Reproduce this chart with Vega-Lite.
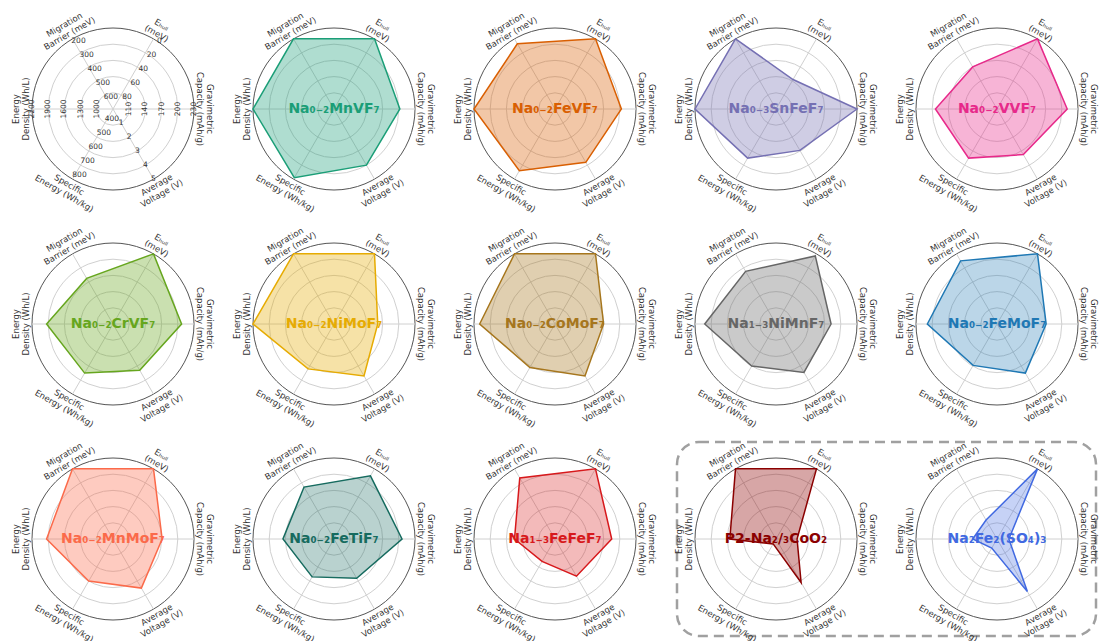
{
  "$schema": "https://vega.github.io/schema/vega-lite/v6.json",
  "background": "white",
  "padding": {"left": 11, "top": 6, "right": 0, "bottom": 0},
  "autosize": {"type": "pad"},
  "config": {
    "view": {"stroke": null},
    "axis": {"disable": true},
    "legend": {"disable": true},
    "font": "DejaVu Sans"
  },
  "datasets": {
    "axes": [
      {"axis": "grav", "angle": 0, "lo": 110, "hi": 230, "title": "Gravimetric\nCapacity (mAh/g)"},
      {"axis": "ehull", "angle": 60, "lo": 80, "hi": 0, "title": "Eₕᵤₗₗ\n(meV)"},
      {"axis": "mig", "angle": 120, "lo": 600, "hi": 200, "title": "Migration\nBarrier (meV)"},
      {"axis": "ed", "angle": 180, "lo": 1000, "hi": 2200, "title": "Energy\nDensity (Wh/L)"},
      {"axis": "spec", "angle": 240, "lo": 400, "hi": 800, "title": "Specific\nEnergy (Wh/kg)"},
      {"axis": "volt", "angle": 300, "lo": 1, "hi": 5, "title": "Average\nVoltage (V)"}
    ],
    "rings": [{"r": 0.2}, {"r": 0.4}, {"r": 0.6}, {"r": 0.8}, {"r": 1}],
    "ticks": [
      {"axis": "mig", "value": 600}, {"axis": "mig", "value": 500}, {"axis": "mig", "value": 400}, {"axis": "mig", "value": 300}, {"axis": "mig", "value": 200},
      {"axis": "ehull", "value": 80}, {"axis": "ehull", "value": 60}, {"axis": "ehull", "value": 40}, {"axis": "ehull", "value": 20}, {"axis": "ehull", "value": 0},
      {"axis": "grav", "value": 110}, {"axis": "grav", "value": 140}, {"axis": "grav", "value": 170}, {"axis": "grav", "value": 200}, {"axis": "grav", "value": 230},
      {"axis": "volt", "value": 1}, {"axis": "volt", "value": 2}, {"axis": "volt", "value": 3}, {"axis": "volt", "value": 4}, {"axis": "volt", "value": 5},
      {"axis": "spec", "value": 400}, {"axis": "spec", "value": 500}, {"axis": "spec", "value": 600}, {"axis": "spec", "value": 700}, {"axis": "spec", "value": 800},
      {"axis": "ed", "value": 1000}, {"axis": "ed", "value": 1300}, {"axis": "ed", "value": 1600}, {"axis": "ed", "value": 1900}, {"axis": "ed", "value": 2200}
    ],
    "radar": [
      {"material": "Na₀₋₂MnVF₇", "axis": "mig", "value": 200}, {"material": "Na₀₋₂MnVF₇", "axis": "ehull", "value": 0}, {"material": "Na₀₋₂MnVF₇", "axis": "grav", "value": 202}, {"material": "Na₀₋₂MnVF₇", "axis": "volt", "value": 4.0}, {"material": "Na₀₋₂MnVF₇", "axis": "spec", "value": 790}, {"material": "Na₀₋₂MnVF₇", "axis": "ed", "value": 2200},
      {"material": "Na₀₋₂FeVF₇", "axis": "mig", "value": 235}, {"material": "Na₀₋₂FeVF₇", "axis": "ehull", "value": 0}, {"material": "Na₀₋₂FeVF₇", "axis": "grav", "value": 203}, {"material": "Na₀₋₂FeVF₇", "axis": "volt", "value": 3.8}, {"material": "Na₀₋₂FeVF₇", "axis": "spec", "value": 740}, {"material": "Na₀₋₂FeVF₇", "axis": "ed", "value": 2200},
      {"material": "Na₀₋₃SnFeF₇", "axis": "mig", "value": 200}, {"material": "Na₀₋₃SnFeF₇", "axis": "ehull", "value": 58}, {"material": "Na₀₋₃SnFeF₇", "axis": "grav", "value": 230}, {"material": "Na₀₋₃SnFeF₇", "axis": "volt", "value": 2.95}, {"material": "Na₀₋₃SnFeF₇", "axis": "spec", "value": 650}, {"material": "Na₀₋₃SnFeF₇", "axis": "ed", "value": 2200},
      {"material": "Na₀₋₂VVF₇", "axis": "mig", "value": 400}, {"material": "Na₀₋₂VVF₇", "axis": "ehull", "value": 0}, {"material": "Na₀₋₂VVF₇", "axis": "grav", "value": 210}, {"material": "Na₀₋₂VVF₇", "axis": "volt", "value": 3.25}, {"material": "Na₀₋₂VVF₇", "axis": "spec", "value": 650}, {"material": "Na₀₋₂VVF₇", "axis": "ed", "value": 1840},
      {"material": "Na₀₋₂CrVF₇", "axis": "mig", "value": 375}, {"material": "Na₀₋₂CrVF₇", "axis": "ehull", "value": 0}, {"material": "Na₀₋₂CrVF₇", "axis": "grav", "value": 207}, {"material": "Na₀₋₂CrVF₇", "axis": "volt", "value": 3.3}, {"material": "Na₀₋₂CrVF₇", "axis": "spec", "value": 650}, {"material": "Na₀₋₂CrVF₇", "axis": "ed", "value": 1930},
      {"material": "Na₀₋₂NiMoF₇", "axis": "mig", "value": 200}, {"material": "Na₀₋₂NiMoF₇", "axis": "ehull", "value": 0}, {"material": "Na₀₋₂NiMoF₇", "axis": "grav", "value": 161}, {"material": "Na₀₋₂NiMoF₇", "axis": "volt", "value": 3.7}, {"material": "Na₀₋₂NiMoF₇", "axis": "spec", "value": 620}, {"material": "Na₀₋₂NiMoF₇", "axis": "ed", "value": 2200},
      {"material": "Na₀₋₂CoMoF₇", "axis": "mig", "value": 200}, {"material": "Na₀₋₂CoMoF₇", "axis": "ehull", "value": 0}, {"material": "Na₀₋₂CoMoF₇", "axis": "grav", "value": 170}, {"material": "Na₀₋₂CoMoF₇", "axis": "volt", "value": 3.7}, {"material": "Na₀₋₂CoMoF₇", "axis": "spec", "value": 610}, {"material": "Na₀₋₂CoMoF₇", "axis": "ed", "value": 2095},
      {"material": "Na₁₋₃NiMnF₇", "axis": "mig", "value": 325}, {"material": "Na₁₋₃NiMnF₇", "axis": "ehull", "value": 3}, {"material": "Na₁₋₃NiMnF₇", "axis": "grav", "value": 182}, {"material": "Na₁₋₃NiMnF₇", "axis": "volt", "value": 3.45}, {"material": "Na₁₋₃NiMnF₇", "axis": "spec", "value": 600}, {"material": "Na₁₋₃NiMnF₇", "axis": "ed", "value": 2020},
      {"material": "Na₀₋₂FeMoF₇", "axis": "mig", "value": 250}, {"material": "Na₀₋₂FeMoF₇", "axis": "ehull", "value": 0}, {"material": "Na₀₋₂FeMoF₇", "axis": "grav", "value": 171}, {"material": "Na₀₋₂FeMoF₇", "axis": "volt", "value": 3.5}, {"material": "Na₀₋₂FeMoF₇", "axis": "spec", "value": 595}, {"material": "Na₀₋₂FeMoF₇", "axis": "ed", "value": 1990},
      {"material": "Na₀₋₂MnMoF₇", "axis": "mig", "value": 200}, {"material": "Na₀₋₂MnMoF₇", "axis": "ehull", "value": 0}, {"material": "Na₀₋₂MnMoF₇", "axis": "grav", "value": 171}, {"material": "Na₀₋₂MnMoF₇", "axis": "volt", "value": 3.5}, {"material": "Na₀₋₂MnMoF₇", "axis": "spec", "value": 600}, {"material": "Na₀₋₂MnMoF₇", "axis": "ed", "value": 1930},
      {"material": "Na₀₋₂FeTiF₇", "axis": "mig", "value": 330}, {"material": "Na₀₋₂FeTiF₇", "axis": "ehull", "value": 10}, {"material": "Na₀₋₂FeTiF₇", "axis": "grav", "value": 206}, {"material": "Na₀₋₂FeTiF₇", "axis": "volt", "value": 2.8}, {"material": "Na₀₋₂FeTiF₇", "axis": "spec", "value": 570}, {"material": "Na₀₋₂FeTiF₇", "axis": "ed", "value": 1645},
      {"material": "Na₁₋₃FeFeF₇", "axis": "mig", "value": 265}, {"material": "Na₁₋₃FeFeF₇", "axis": "ehull", "value": 0}, {"material": "Na₁₋₃FeFeF₇", "axis": "grav", "value": 185}, {"material": "Na₁₋₃FeFeF₇", "axis": "volt", "value": 2.65}, {"material": "Na₁₋₃FeFeF₇", "axis": "spec", "value": 460}, {"material": "Na₁₋₃FeFeF₇", "axis": "ed", "value": 1450},
      {"material": "P2-Na₂/₃CoO₂", "axis": "mig", "value": 200}, {"material": "P2-Na₂/₃CoO₂", "axis": "ehull", "value": 0}, {"material": "P2-Na₂/₃CoO₂", "axis": "grav", "value": 119}, {"material": "P2-Na₂/₃CoO₂", "axis": "volt", "value": 3.1}, {"material": "P2-Na₂/₃CoO₂", "axis": "spec", "value": 335}, {"material": "P2-Na₂/₃CoO₂", "axis": "ed", "value": 1555},
      {"material": "Na₂Fe₂(SO₄)₃", "axis": "mig", "value": 565}, {"material": "Na₂Fe₂(SO₄)₃", "axis": "ehull", "value": 0}, {"material": "Na₂Fe₂(SO₄)₃", "axis": "grav", "value": 102}, {"material": "Na₂Fe₂(SO₄)₃", "axis": "volt", "value": 3.75}, {"material": "Na₂Fe₂(SO₄)₃", "axis": "spec", "value": 365}, {"material": "Na₂Fe₂(SO₄)₃", "axis": "ed", "value": 1150}
    ]
  },
  "data": {"name": "radar"},
  "transform": [
    {"lookup": "axis", "from": {"data": {"name": "axes"}, "key": "axis", "fields": ["angle", "lo", "hi"]}},
    {"calculate": "0.2 + 0.8 * (datum.value - datum.lo) / (datum.hi - datum.lo)", "as": "r"},
    {"calculate": "datum.r * cos(datum.angle * PI / 180)", "as": "px"},
    {"calculate": "datum.r * sin(datum.angle * PI / 180)", "as": "py"}
  ],
  "columns": 5,
  "spacing": {"row": 21, "column": 23},
  "bounds": "flush",
  "concat": [
    {
      "width": 198, "height": 194,
      "layer": [
        {"data": {"name": "rings"}, "mark": {"type": "point", "shape": "circle", "filled": false, "opacity": 1, "strokeWidth": 1}, "encoding": {"x": {"datum": 0, "type": "quantitative", "scale": {"domain": [-1.2222, 1.2222], "nice": false}}, "y": {"datum": 0, "type": "quantitative", "scale": {"domain": [-1.1975, 1.1975], "nice": false}}, "size": {"field": "r", "type": "quantitative", "scale": {"type": "pow", "exponent": 2, "domain": [0, 1], "range": [0, 26244]}}, "stroke": {"condition": {"test": "datum.r === 1", "value": "#555555"}, "value": "#d0d0d0"}}},
        {"data": {"name": "axes"}, "transform": [{"calculate": "0", "as": "ox"}, {"calculate": "0", "as": "oy"}, {"calculate": "cos(datum.angle * PI / 180)", "as": "ex"}, {"calculate": "sin(datum.angle * PI / 180)", "as": "ey"}], "mark": {"type": "rule", "color": "#d0d0d0", "strokeWidth": 1}, "encoding": {"x": {"field": "ox", "type": "quantitative"}, "y": {"field": "oy", "type": "quantitative"}, "x2": {"field": "ex"}, "y2": {"field": "ey"}}},
        {"data": {"name": "axes"}, "transform": [{"calculate": "1.14 * cos(datum.angle * PI / 180)", "as": "tx"}, {"calculate": "1.14 * sin(datum.angle * PI / 180)", "as": "ty"}, {"calculate": "90 - datum.angle < -90 ? 270 - datum.angle : 90 - datum.angle", "as": "rot"}], "mark": {"type": "text", "fontSize": 8.5, "lineBreak": "\n", "lineHeight": 10, "color": "#333333", "baseline": "middle", "align": "center", "dy": -5}, "encoding": {"x": {"field": "tx", "type": "quantitative"}, "y": {"field": "ty", "type": "quantitative"}, "text": {"field": "title", "type": "nominal"}, "angle": {"field": "rot", "type": "quantitative", "scale": null}}},
        {
          "data": {"name": "ticks"},
          "transform": [
            {"lookup": "axis", "from": {"data": {"name": "axes"}, "key": "axis", "fields": ["angle", "lo", "hi"]}},
            {"calculate": "0.2 + 0.8 * (datum.value - datum.lo) / (datum.hi - datum.lo)", "as": "r"},
            {"calculate": "datum.r * cos(datum.angle * PI / 180)", "as": "px"},
            {"calculate": "datum.r * sin(datum.angle * PI / 180)", "as": "py"}
          ],
          "encoding": {"x": {"field": "px", "type": "quantitative"}, "y": {"field": "py", "type": "quantitative"}, "text": {"field": "value", "type": "nominal"}},
          "layer": [
            {"transform": [{"filter": "datum.axis === 'mig' || datum.axis === 'ehull'"}], "mark": {"type": "text", "fontSize": 7.5, "color": "#333333", "dx": 6, "dy": 2}},
            {"transform": [{"filter": "datum.axis === 'spec'"}], "mark": {"type": "text", "fontSize": 7.5, "color": "#333333", "dx": 7, "dy": -4}},
            {"transform": [{"filter": "datum.axis === 'volt'"}], "mark": {"type": "text", "fontSize": 7.5, "color": "#333333"}},
            {"transform": [{"filter": "datum.axis === 'grav' || datum.axis === 'ed'"}], "mark": {"type": "text", "fontSize": 7.5, "color": "#333333", "angle": -90}}
          ]
        }
      ]
    },
    {
      "width": 198, "height": 194,
      "layer": [
        {"data": {"name": "rings"}, "mark": {"type": "point", "shape": "circle", "filled": false, "opacity": 1, "strokeWidth": 1}, "encoding": {"x": {"datum": 0, "type": "quantitative", "scale": {"domain": [-1.2222, 1.2222], "nice": false}}, "y": {"datum": 0, "type": "quantitative", "scale": {"domain": [-1.1975, 1.1975], "nice": false}}, "size": {"field": "r", "type": "quantitative", "scale": {"type": "pow", "exponent": 2, "domain": [0, 1], "range": [0, 26244]}}, "stroke": {"condition": {"test": "datum.r === 1", "value": "#555555"}, "value": "#d0d0d0"}}},
        {"data": {"name": "axes"}, "transform": [{"calculate": "0", "as": "ox"}, {"calculate": "0", "as": "oy"}, {"calculate": "cos(datum.angle * PI / 180)", "as": "ex"}, {"calculate": "sin(datum.angle * PI / 180)", "as": "ey"}], "mark": {"type": "rule", "color": "#d0d0d0", "strokeWidth": 1}, "encoding": {"x": {"field": "ox", "type": "quantitative"}, "y": {"field": "oy", "type": "quantitative"}, "x2": {"field": "ex"}, "y2": {"field": "ey"}}},
        {"transform": [{"filter": {"field": "material", "equal": "Na₀₋₂MnVF₇"}}], "mark": {"type": "line", "interpolate": "linear-closed", "color": "#1b9e77", "strokeWidth": 1.5, "fill": "#1b9e77", "fillOpacity": 0.35}, "encoding": {"x": {"field": "px", "type": "quantitative"}, "y": {"field": "py", "type": "quantitative"}, "order": {"field": "angle", "type": "quantitative"}}},
        {"data": {"name": "axes"}, "transform": [{"calculate": "1.14 * cos(datum.angle * PI / 180)", "as": "tx"}, {"calculate": "1.14 * sin(datum.angle * PI / 180)", "as": "ty"}, {"calculate": "90 - datum.angle < -90 ? 270 - datum.angle : 90 - datum.angle", "as": "rot"}], "mark": {"type": "text", "fontSize": 8.5, "lineBreak": "\n", "lineHeight": 10, "color": "#333333", "baseline": "middle", "align": "center", "dy": -5}, "encoding": {"x": {"field": "tx", "type": "quantitative"}, "y": {"field": "ty", "type": "quantitative"}, "text": {"field": "title", "type": "nominal"}, "angle": {"field": "rot", "type": "quantitative", "scale": null}}},
        {"transform": [{"filter": {"field": "material", "equal": "Na₀₋₂MnVF₇"}}, {"filter": {"field": "axis", "equal": "grav"}}], "mark": {"type": "text", "fontSize": 14, "fontWeight": "bold", "color": "#1b9e77"}, "encoding": {"x": {"datum": 0, "type": "quantitative"}, "y": {"datum": 0, "type": "quantitative"}, "text": {"field": "material", "type": "nominal"}}}
      ]
    },
    {
      "width": 198, "height": 194,
      "layer": [
        {"data": {"name": "rings"}, "mark": {"type": "point", "shape": "circle", "filled": false, "opacity": 1, "strokeWidth": 1}, "encoding": {"x": {"datum": 0, "type": "quantitative", "scale": {"domain": [-1.2222, 1.2222], "nice": false}}, "y": {"datum": 0, "type": "quantitative", "scale": {"domain": [-1.1975, 1.1975], "nice": false}}, "size": {"field": "r", "type": "quantitative", "scale": {"type": "pow", "exponent": 2, "domain": [0, 1], "range": [0, 26244]}}, "stroke": {"condition": {"test": "datum.r === 1", "value": "#555555"}, "value": "#d0d0d0"}}},
        {"data": {"name": "axes"}, "transform": [{"calculate": "0", "as": "ox"}, {"calculate": "0", "as": "oy"}, {"calculate": "cos(datum.angle * PI / 180)", "as": "ex"}, {"calculate": "sin(datum.angle * PI / 180)", "as": "ey"}], "mark": {"type": "rule", "color": "#d0d0d0", "strokeWidth": 1}, "encoding": {"x": {"field": "ox", "type": "quantitative"}, "y": {"field": "oy", "type": "quantitative"}, "x2": {"field": "ex"}, "y2": {"field": "ey"}}},
        {"transform": [{"filter": {"field": "material", "equal": "Na₀₋₂FeVF₇"}}], "mark": {"type": "line", "interpolate": "linear-closed", "color": "#d95f02", "strokeWidth": 1.5, "fill": "#d95f02", "fillOpacity": 0.35}, "encoding": {"x": {"field": "px", "type": "quantitative"}, "y": {"field": "py", "type": "quantitative"}, "order": {"field": "angle", "type": "quantitative"}}},
        {"data": {"name": "axes"}, "transform": [{"calculate": "1.14 * cos(datum.angle * PI / 180)", "as": "tx"}, {"calculate": "1.14 * sin(datum.angle * PI / 180)", "as": "ty"}, {"calculate": "90 - datum.angle < -90 ? 270 - datum.angle : 90 - datum.angle", "as": "rot"}], "mark": {"type": "text", "fontSize": 8.5, "lineBreak": "\n", "lineHeight": 10, "color": "#333333", "baseline": "middle", "align": "center", "dy": -5}, "encoding": {"x": {"field": "tx", "type": "quantitative"}, "y": {"field": "ty", "type": "quantitative"}, "text": {"field": "title", "type": "nominal"}, "angle": {"field": "rot", "type": "quantitative", "scale": null}}},
        {"transform": [{"filter": {"field": "material", "equal": "Na₀₋₂FeVF₇"}}, {"filter": {"field": "axis", "equal": "grav"}}], "mark": {"type": "text", "fontSize": 14, "fontWeight": "bold", "color": "#d95f02"}, "encoding": {"x": {"datum": 0, "type": "quantitative"}, "y": {"datum": 0, "type": "quantitative"}, "text": {"field": "material", "type": "nominal"}}}
      ]
    },
    {
      "width": 198, "height": 194,
      "layer": [
        {"data": {"name": "rings"}, "mark": {"type": "point", "shape": "circle", "filled": false, "opacity": 1, "strokeWidth": 1}, "encoding": {"x": {"datum": 0, "type": "quantitative", "scale": {"domain": [-1.2222, 1.2222], "nice": false}}, "y": {"datum": 0, "type": "quantitative", "scale": {"domain": [-1.1975, 1.1975], "nice": false}}, "size": {"field": "r", "type": "quantitative", "scale": {"type": "pow", "exponent": 2, "domain": [0, 1], "range": [0, 26244]}}, "stroke": {"condition": {"test": "datum.r === 1", "value": "#555555"}, "value": "#d0d0d0"}}},
        {"data": {"name": "axes"}, "transform": [{"calculate": "0", "as": "ox"}, {"calculate": "0", "as": "oy"}, {"calculate": "cos(datum.angle * PI / 180)", "as": "ex"}, {"calculate": "sin(datum.angle * PI / 180)", "as": "ey"}], "mark": {"type": "rule", "color": "#d0d0d0", "strokeWidth": 1}, "encoding": {"x": {"field": "ox", "type": "quantitative"}, "y": {"field": "oy", "type": "quantitative"}, "x2": {"field": "ex"}, "y2": {"field": "ey"}}},
        {"transform": [{"filter": {"field": "material", "equal": "Na₀₋₃SnFeF₇"}}], "mark": {"type": "line", "interpolate": "linear-closed", "color": "#7570b3", "strokeWidth": 1.5, "fill": "#7570b3", "fillOpacity": 0.35}, "encoding": {"x": {"field": "px", "type": "quantitative"}, "y": {"field": "py", "type": "quantitative"}, "order": {"field": "angle", "type": "quantitative"}}},
        {"data": {"name": "axes"}, "transform": [{"calculate": "1.14 * cos(datum.angle * PI / 180)", "as": "tx"}, {"calculate": "1.14 * sin(datum.angle * PI / 180)", "as": "ty"}, {"calculate": "90 - datum.angle < -90 ? 270 - datum.angle : 90 - datum.angle", "as": "rot"}], "mark": {"type": "text", "fontSize": 8.5, "lineBreak": "\n", "lineHeight": 10, "color": "#333333", "baseline": "middle", "align": "center", "dy": -5}, "encoding": {"x": {"field": "tx", "type": "quantitative"}, "y": {"field": "ty", "type": "quantitative"}, "text": {"field": "title", "type": "nominal"}, "angle": {"field": "rot", "type": "quantitative", "scale": null}}},
        {"transform": [{"filter": {"field": "material", "equal": "Na₀₋₃SnFeF₇"}}, {"filter": {"field": "axis", "equal": "grav"}}], "mark": {"type": "text", "fontSize": 14, "fontWeight": "bold", "color": "#7570b3"}, "encoding": {"x": {"datum": 0, "type": "quantitative"}, "y": {"datum": 0, "type": "quantitative"}, "text": {"field": "material", "type": "nominal"}}}
      ]
    },
    {
      "width": 198, "height": 194,
      "layer": [
        {"data": {"name": "rings"}, "mark": {"type": "point", "shape": "circle", "filled": false, "opacity": 1, "strokeWidth": 1}, "encoding": {"x": {"datum": 0, "type": "quantitative", "scale": {"domain": [-1.2222, 1.2222], "nice": false}}, "y": {"datum": 0, "type": "quantitative", "scale": {"domain": [-1.1975, 1.1975], "nice": false}}, "size": {"field": "r", "type": "quantitative", "scale": {"type": "pow", "exponent": 2, "domain": [0, 1], "range": [0, 26244]}}, "stroke": {"condition": {"test": "datum.r === 1", "value": "#555555"}, "value": "#d0d0d0"}}},
        {"data": {"name": "axes"}, "transform": [{"calculate": "0", "as": "ox"}, {"calculate": "0", "as": "oy"}, {"calculate": "cos(datum.angle * PI / 180)", "as": "ex"}, {"calculate": "sin(datum.angle * PI / 180)", "as": "ey"}], "mark": {"type": "rule", "color": "#d0d0d0", "strokeWidth": 1}, "encoding": {"x": {"field": "ox", "type": "quantitative"}, "y": {"field": "oy", "type": "quantitative"}, "x2": {"field": "ex"}, "y2": {"field": "ey"}}},
        {"transform": [{"filter": {"field": "material", "equal": "Na₀₋₂VVF₇"}}], "mark": {"type": "line", "interpolate": "linear-closed", "color": "#e7298a", "strokeWidth": 1.5, "fill": "#e7298a", "fillOpacity": 0.35}, "encoding": {"x": {"field": "px", "type": "quantitative"}, "y": {"field": "py", "type": "quantitative"}, "order": {"field": "angle", "type": "quantitative"}}},
        {"data": {"name": "axes"}, "transform": [{"calculate": "1.14 * cos(datum.angle * PI / 180)", "as": "tx"}, {"calculate": "1.14 * sin(datum.angle * PI / 180)", "as": "ty"}, {"calculate": "90 - datum.angle < -90 ? 270 - datum.angle : 90 - datum.angle", "as": "rot"}], "mark": {"type": "text", "fontSize": 8.5, "lineBreak": "\n", "lineHeight": 10, "color": "#333333", "baseline": "middle", "align": "center", "dy": -5}, "encoding": {"x": {"field": "tx", "type": "quantitative"}, "y": {"field": "ty", "type": "quantitative"}, "text": {"field": "title", "type": "nominal"}, "angle": {"field": "rot", "type": "quantitative", "scale": null}}},
        {"transform": [{"filter": {"field": "material", "equal": "Na₀₋₂VVF₇"}}, {"filter": {"field": "axis", "equal": "grav"}}], "mark": {"type": "text", "fontSize": 14, "fontWeight": "bold", "color": "#e7298a"}, "encoding": {"x": {"datum": 0, "type": "quantitative"}, "y": {"datum": 0, "type": "quantitative"}, "text": {"field": "material", "type": "nominal"}}}
      ]
    },
    {
      "width": 198, "height": 194,
      "layer": [
        {"data": {"name": "rings"}, "mark": {"type": "point", "shape": "circle", "filled": false, "opacity": 1, "strokeWidth": 1}, "encoding": {"x": {"datum": 0, "type": "quantitative", "scale": {"domain": [-1.2222, 1.2222], "nice": false}}, "y": {"datum": 0, "type": "quantitative", "scale": {"domain": [-1.1975, 1.1975], "nice": false}}, "size": {"field": "r", "type": "quantitative", "scale": {"type": "pow", "exponent": 2, "domain": [0, 1], "range": [0, 26244]}}, "stroke": {"condition": {"test": "datum.r === 1", "value": "#555555"}, "value": "#d0d0d0"}}},
        {"data": {"name": "axes"}, "transform": [{"calculate": "0", "as": "ox"}, {"calculate": "0", "as": "oy"}, {"calculate": "cos(datum.angle * PI / 180)", "as": "ex"}, {"calculate": "sin(datum.angle * PI / 180)", "as": "ey"}], "mark": {"type": "rule", "color": "#d0d0d0", "strokeWidth": 1}, "encoding": {"x": {"field": "ox", "type": "quantitative"}, "y": {"field": "oy", "type": "quantitative"}, "x2": {"field": "ex"}, "y2": {"field": "ey"}}},
        {"transform": [{"filter": {"field": "material", "equal": "Na₀₋₂CrVF₇"}}], "mark": {"type": "line", "interpolate": "linear-closed", "color": "#66a61e", "strokeWidth": 1.5, "fill": "#66a61e", "fillOpacity": 0.35}, "encoding": {"x": {"field": "px", "type": "quantitative"}, "y": {"field": "py", "type": "quantitative"}, "order": {"field": "angle", "type": "quantitative"}}},
        {"data": {"name": "axes"}, "transform": [{"calculate": "1.14 * cos(datum.angle * PI / 180)", "as": "tx"}, {"calculate": "1.14 * sin(datum.angle * PI / 180)", "as": "ty"}, {"calculate": "90 - datum.angle < -90 ? 270 - datum.angle : 90 - datum.angle", "as": "rot"}], "mark": {"type": "text", "fontSize": 8.5, "lineBreak": "\n", "lineHeight": 10, "color": "#333333", "baseline": "middle", "align": "center", "dy": -5}, "encoding": {"x": {"field": "tx", "type": "quantitative"}, "y": {"field": "ty", "type": "quantitative"}, "text": {"field": "title", "type": "nominal"}, "angle": {"field": "rot", "type": "quantitative", "scale": null}}},
        {"transform": [{"filter": {"field": "material", "equal": "Na₀₋₂CrVF₇"}}, {"filter": {"field": "axis", "equal": "grav"}}], "mark": {"type": "text", "fontSize": 14, "fontWeight": "bold", "color": "#66a61e"}, "encoding": {"x": {"datum": 0, "type": "quantitative"}, "y": {"datum": 0, "type": "quantitative"}, "text": {"field": "material", "type": "nominal"}}}
      ]
    },
    {
      "width": 198, "height": 194,
      "layer": [
        {"data": {"name": "rings"}, "mark": {"type": "point", "shape": "circle", "filled": false, "opacity": 1, "strokeWidth": 1}, "encoding": {"x": {"datum": 0, "type": "quantitative", "scale": {"domain": [-1.2222, 1.2222], "nice": false}}, "y": {"datum": 0, "type": "quantitative", "scale": {"domain": [-1.1975, 1.1975], "nice": false}}, "size": {"field": "r", "type": "quantitative", "scale": {"type": "pow", "exponent": 2, "domain": [0, 1], "range": [0, 26244]}}, "stroke": {"condition": {"test": "datum.r === 1", "value": "#555555"}, "value": "#d0d0d0"}}},
        {"data": {"name": "axes"}, "transform": [{"calculate": "0", "as": "ox"}, {"calculate": "0", "as": "oy"}, {"calculate": "cos(datum.angle * PI / 180)", "as": "ex"}, {"calculate": "sin(datum.angle * PI / 180)", "as": "ey"}], "mark": {"type": "rule", "color": "#d0d0d0", "strokeWidth": 1}, "encoding": {"x": {"field": "ox", "type": "quantitative"}, "y": {"field": "oy", "type": "quantitative"}, "x2": {"field": "ex"}, "y2": {"field": "ey"}}},
        {"transform": [{"filter": {"field": "material", "equal": "Na₀₋₂NiMoF₇"}}], "mark": {"type": "line", "interpolate": "linear-closed", "color": "#e6ab02", "strokeWidth": 1.5, "fill": "#e6ab02", "fillOpacity": 0.35}, "encoding": {"x": {"field": "px", "type": "quantitative"}, "y": {"field": "py", "type": "quantitative"}, "order": {"field": "angle", "type": "quantitative"}}},
        {"data": {"name": "axes"}, "transform": [{"calculate": "1.14 * cos(datum.angle * PI / 180)", "as": "tx"}, {"calculate": "1.14 * sin(datum.angle * PI / 180)", "as": "ty"}, {"calculate": "90 - datum.angle < -90 ? 270 - datum.angle : 90 - datum.angle", "as": "rot"}], "mark": {"type": "text", "fontSize": 8.5, "lineBreak": "\n", "lineHeight": 10, "color": "#333333", "baseline": "middle", "align": "center", "dy": -5}, "encoding": {"x": {"field": "tx", "type": "quantitative"}, "y": {"field": "ty", "type": "quantitative"}, "text": {"field": "title", "type": "nominal"}, "angle": {"field": "rot", "type": "quantitative", "scale": null}}},
        {"transform": [{"filter": {"field": "material", "equal": "Na₀₋₂NiMoF₇"}}, {"filter": {"field": "axis", "equal": "grav"}}], "mark": {"type": "text", "fontSize": 14, "fontWeight": "bold", "color": "#e6ab02"}, "encoding": {"x": {"datum": 0, "type": "quantitative"}, "y": {"datum": 0, "type": "quantitative"}, "text": {"field": "material", "type": "nominal"}}}
      ]
    },
    {
      "width": 198, "height": 194,
      "layer": [
        {"data": {"name": "rings"}, "mark": {"type": "point", "shape": "circle", "filled": false, "opacity": 1, "strokeWidth": 1}, "encoding": {"x": {"datum": 0, "type": "quantitative", "scale": {"domain": [-1.2222, 1.2222], "nice": false}}, "y": {"datum": 0, "type": "quantitative", "scale": {"domain": [-1.1975, 1.1975], "nice": false}}, "size": {"field": "r", "type": "quantitative", "scale": {"type": "pow", "exponent": 2, "domain": [0, 1], "range": [0, 26244]}}, "stroke": {"condition": {"test": "datum.r === 1", "value": "#555555"}, "value": "#d0d0d0"}}},
        {"data": {"name": "axes"}, "transform": [{"calculate": "0", "as": "ox"}, {"calculate": "0", "as": "oy"}, {"calculate": "cos(datum.angle * PI / 180)", "as": "ex"}, {"calculate": "sin(datum.angle * PI / 180)", "as": "ey"}], "mark": {"type": "rule", "color": "#d0d0d0", "strokeWidth": 1}, "encoding": {"x": {"field": "ox", "type": "quantitative"}, "y": {"field": "oy", "type": "quantitative"}, "x2": {"field": "ex"}, "y2": {"field": "ey"}}},
        {"transform": [{"filter": {"field": "material", "equal": "Na₀₋₂CoMoF₇"}}], "mark": {"type": "line", "interpolate": "linear-closed", "color": "#a6761d", "strokeWidth": 1.5, "fill": "#a6761d", "fillOpacity": 0.35}, "encoding": {"x": {"field": "px", "type": "quantitative"}, "y": {"field": "py", "type": "quantitative"}, "order": {"field": "angle", "type": "quantitative"}}},
        {"data": {"name": "axes"}, "transform": [{"calculate": "1.14 * cos(datum.angle * PI / 180)", "as": "tx"}, {"calculate": "1.14 * sin(datum.angle * PI / 180)", "as": "ty"}, {"calculate": "90 - datum.angle < -90 ? 270 - datum.angle : 90 - datum.angle", "as": "rot"}], "mark": {"type": "text", "fontSize": 8.5, "lineBreak": "\n", "lineHeight": 10, "color": "#333333", "baseline": "middle", "align": "center", "dy": -5}, "encoding": {"x": {"field": "tx", "type": "quantitative"}, "y": {"field": "ty", "type": "quantitative"}, "text": {"field": "title", "type": "nominal"}, "angle": {"field": "rot", "type": "quantitative", "scale": null}}},
        {"transform": [{"filter": {"field": "material", "equal": "Na₀₋₂CoMoF₇"}}, {"filter": {"field": "axis", "equal": "grav"}}], "mark": {"type": "text", "fontSize": 14, "fontWeight": "bold", "color": "#a6761d"}, "encoding": {"x": {"datum": 0, "type": "quantitative"}, "y": {"datum": 0, "type": "quantitative"}, "text": {"field": "material", "type": "nominal"}}}
      ]
    },
    {
      "width": 198, "height": 194,
      "layer": [
        {"data": {"name": "rings"}, "mark": {"type": "point", "shape": "circle", "filled": false, "opacity": 1, "strokeWidth": 1}, "encoding": {"x": {"datum": 0, "type": "quantitative", "scale": {"domain": [-1.2222, 1.2222], "nice": false}}, "y": {"datum": 0, "type": "quantitative", "scale": {"domain": [-1.1975, 1.1975], "nice": false}}, "size": {"field": "r", "type": "quantitative", "scale": {"type": "pow", "exponent": 2, "domain": [0, 1], "range": [0, 26244]}}, "stroke": {"condition": {"test": "datum.r === 1", "value": "#555555"}, "value": "#d0d0d0"}}},
        {"data": {"name": "axes"}, "transform": [{"calculate": "0", "as": "ox"}, {"calculate": "0", "as": "oy"}, {"calculate": "cos(datum.angle * PI / 180)", "as": "ex"}, {"calculate": "sin(datum.angle * PI / 180)", "as": "ey"}], "mark": {"type": "rule", "color": "#d0d0d0", "strokeWidth": 1}, "encoding": {"x": {"field": "ox", "type": "quantitative"}, "y": {"field": "oy", "type": "quantitative"}, "x2": {"field": "ex"}, "y2": {"field": "ey"}}},
        {"transform": [{"filter": {"field": "material", "equal": "Na₁₋₃NiMnF₇"}}], "mark": {"type": "line", "interpolate": "linear-closed", "color": "#666666", "strokeWidth": 1.5, "fill": "#666666", "fillOpacity": 0.35}, "encoding": {"x": {"field": "px", "type": "quantitative"}, "y": {"field": "py", "type": "quantitative"}, "order": {"field": "angle", "type": "quantitative"}}},
        {"data": {"name": "axes"}, "transform": [{"calculate": "1.14 * cos(datum.angle * PI / 180)", "as": "tx"}, {"calculate": "1.14 * sin(datum.angle * PI / 180)", "as": "ty"}, {"calculate": "90 - datum.angle < -90 ? 270 - datum.angle : 90 - datum.angle", "as": "rot"}], "mark": {"type": "text", "fontSize": 8.5, "lineBreak": "\n", "lineHeight": 10, "color": "#333333", "baseline": "middle", "align": "center", "dy": -5}, "encoding": {"x": {"field": "tx", "type": "quantitative"}, "y": {"field": "ty", "type": "quantitative"}, "text": {"field": "title", "type": "nominal"}, "angle": {"field": "rot", "type": "quantitative", "scale": null}}},
        {"transform": [{"filter": {"field": "material", "equal": "Na₁₋₃NiMnF₇"}}, {"filter": {"field": "axis", "equal": "grav"}}], "mark": {"type": "text", "fontSize": 14, "fontWeight": "bold", "color": "#666666"}, "encoding": {"x": {"datum": 0, "type": "quantitative"}, "y": {"datum": 0, "type": "quantitative"}, "text": {"field": "material", "type": "nominal"}}}
      ]
    },
    {
      "width": 198, "height": 194,
      "layer": [
        {"data": {"name": "rings"}, "mark": {"type": "point", "shape": "circle", "filled": false, "opacity": 1, "strokeWidth": 1}, "encoding": {"x": {"datum": 0, "type": "quantitative", "scale": {"domain": [-1.2222, 1.2222], "nice": false}}, "y": {"datum": 0, "type": "quantitative", "scale": {"domain": [-1.1975, 1.1975], "nice": false}}, "size": {"field": "r", "type": "quantitative", "scale": {"type": "pow", "exponent": 2, "domain": [0, 1], "range": [0, 26244]}}, "stroke": {"condition": {"test": "datum.r === 1", "value": "#555555"}, "value": "#d0d0d0"}}},
        {"data": {"name": "axes"}, "transform": [{"calculate": "0", "as": "ox"}, {"calculate": "0", "as": "oy"}, {"calculate": "cos(datum.angle * PI / 180)", "as": "ex"}, {"calculate": "sin(datum.angle * PI / 180)", "as": "ey"}], "mark": {"type": "rule", "color": "#d0d0d0", "strokeWidth": 1}, "encoding": {"x": {"field": "ox", "type": "quantitative"}, "y": {"field": "oy", "type": "quantitative"}, "x2": {"field": "ex"}, "y2": {"field": "ey"}}},
        {"transform": [{"filter": {"field": "material", "equal": "Na₀₋₂FeMoF₇"}}], "mark": {"type": "line", "interpolate": "linear-closed", "color": "#1f78b4", "strokeWidth": 1.5, "fill": "#1f78b4", "fillOpacity": 0.3}, "encoding": {"x": {"field": "px", "type": "quantitative"}, "y": {"field": "py", "type": "quantitative"}, "order": {"field": "angle", "type": "quantitative"}}},
        {"data": {"name": "axes"}, "transform": [{"calculate": "1.14 * cos(datum.angle * PI / 180)", "as": "tx"}, {"calculate": "1.14 * sin(datum.angle * PI / 180)", "as": "ty"}, {"calculate": "90 - datum.angle < -90 ? 270 - datum.angle : 90 - datum.angle", "as": "rot"}], "mark": {"type": "text", "fontSize": 8.5, "lineBreak": "\n", "lineHeight": 10, "color": "#333333", "baseline": "middle", "align": "center", "dy": -5}, "encoding": {"x": {"field": "tx", "type": "quantitative"}, "y": {"field": "ty", "type": "quantitative"}, "text": {"field": "title", "type": "nominal"}, "angle": {"field": "rot", "type": "quantitative", "scale": null}}},
        {"transform": [{"filter": {"field": "material", "equal": "Na₀₋₂FeMoF₇"}}, {"filter": {"field": "axis", "equal": "grav"}}], "mark": {"type": "text", "fontSize": 14, "fontWeight": "bold", "color": "#1f78b4"}, "encoding": {"x": {"datum": 0, "type": "quantitative"}, "y": {"datum": 0, "type": "quantitative"}, "text": {"field": "material", "type": "nominal"}}}
      ]
    },
    {
      "width": 198, "height": 194,
      "layer": [
        {"data": {"name": "rings"}, "mark": {"type": "point", "shape": "circle", "filled": false, "opacity": 1, "strokeWidth": 1}, "encoding": {"x": {"datum": 0, "type": "quantitative", "scale": {"domain": [-1.2222, 1.2222], "nice": false}}, "y": {"datum": 0, "type": "quantitative", "scale": {"domain": [-1.1975, 1.1975], "nice": false}}, "size": {"field": "r", "type": "quantitative", "scale": {"type": "pow", "exponent": 2, "domain": [0, 1], "range": [0, 26244]}}, "stroke": {"condition": {"test": "datum.r === 1", "value": "#555555"}, "value": "#d0d0d0"}}},
        {"data": {"name": "axes"}, "transform": [{"calculate": "0", "as": "ox"}, {"calculate": "0", "as": "oy"}, {"calculate": "cos(datum.angle * PI / 180)", "as": "ex"}, {"calculate": "sin(datum.angle * PI / 180)", "as": "ey"}], "mark": {"type": "rule", "color": "#d0d0d0", "strokeWidth": 1}, "encoding": {"x": {"field": "ox", "type": "quantitative"}, "y": {"field": "oy", "type": "quantitative"}, "x2": {"field": "ex"}, "y2": {"field": "ey"}}},
        {"transform": [{"filter": {"field": "material", "equal": "Na₀₋₂MnMoF₇"}}], "mark": {"type": "line", "interpolate": "linear-closed", "color": "#fb6a4a", "strokeWidth": 1.5, "fill": "#fb6a4a", "fillOpacity": 0.35}, "encoding": {"x": {"field": "px", "type": "quantitative"}, "y": {"field": "py", "type": "quantitative"}, "order": {"field": "angle", "type": "quantitative"}}},
        {"data": {"name": "axes"}, "transform": [{"calculate": "1.14 * cos(datum.angle * PI / 180)", "as": "tx"}, {"calculate": "1.14 * sin(datum.angle * PI / 180)", "as": "ty"}, {"calculate": "90 - datum.angle < -90 ? 270 - datum.angle : 90 - datum.angle", "as": "rot"}], "mark": {"type": "text", "fontSize": 8.5, "lineBreak": "\n", "lineHeight": 10, "color": "#333333", "baseline": "middle", "align": "center", "dy": -5}, "encoding": {"x": {"field": "tx", "type": "quantitative"}, "y": {"field": "ty", "type": "quantitative"}, "text": {"field": "title", "type": "nominal"}, "angle": {"field": "rot", "type": "quantitative", "scale": null}}},
        {"transform": [{"filter": {"field": "material", "equal": "Na₀₋₂MnMoF₇"}}, {"filter": {"field": "axis", "equal": "grav"}}], "mark": {"type": "text", "fontSize": 14, "fontWeight": "bold", "color": "#fb6a4a"}, "encoding": {"x": {"datum": 0, "type": "quantitative"}, "y": {"datum": 0, "type": "quantitative"}, "text": {"field": "material", "type": "nominal"}}}
      ]
    },
    {
      "width": 198, "height": 194,
      "layer": [
        {"data": {"name": "rings"}, "mark": {"type": "point", "shape": "circle", "filled": false, "opacity": 1, "strokeWidth": 1}, "encoding": {"x": {"datum": 0, "type": "quantitative", "scale": {"domain": [-1.2222, 1.2222], "nice": false}}, "y": {"datum": 0, "type": "quantitative", "scale": {"domain": [-1.1975, 1.1975], "nice": false}}, "size": {"field": "r", "type": "quantitative", "scale": {"type": "pow", "exponent": 2, "domain": [0, 1], "range": [0, 26244]}}, "stroke": {"condition": {"test": "datum.r === 1", "value": "#555555"}, "value": "#d0d0d0"}}},
        {"data": {"name": "axes"}, "transform": [{"calculate": "0", "as": "ox"}, {"calculate": "0", "as": "oy"}, {"calculate": "cos(datum.angle * PI / 180)", "as": "ex"}, {"calculate": "sin(datum.angle * PI / 180)", "as": "ey"}], "mark": {"type": "rule", "color": "#d0d0d0", "strokeWidth": 1}, "encoding": {"x": {"field": "ox", "type": "quantitative"}, "y": {"field": "oy", "type": "quantitative"}, "x2": {"field": "ex"}, "y2": {"field": "ey"}}},
        {"transform": [{"filter": {"field": "material", "equal": "Na₀₋₂FeTiF₇"}}], "mark": {"type": "line", "interpolate": "linear-closed", "color": "#166b5f", "strokeWidth": 1.5, "fill": "#166b5f", "fillOpacity": 0.3}, "encoding": {"x": {"field": "px", "type": "quantitative"}, "y": {"field": "py", "type": "quantitative"}, "order": {"field": "angle", "type": "quantitative"}}},
        {"data": {"name": "axes"}, "transform": [{"calculate": "1.14 * cos(datum.angle * PI / 180)", "as": "tx"}, {"calculate": "1.14 * sin(datum.angle * PI / 180)", "as": "ty"}, {"calculate": "90 - datum.angle < -90 ? 270 - datum.angle : 90 - datum.angle", "as": "rot"}], "mark": {"type": "text", "fontSize": 8.5, "lineBreak": "\n", "lineHeight": 10, "color": "#333333", "baseline": "middle", "align": "center", "dy": -5}, "encoding": {"x": {"field": "tx", "type": "quantitative"}, "y": {"field": "ty", "type": "quantitative"}, "text": {"field": "title", "type": "nominal"}, "angle": {"field": "rot", "type": "quantitative", "scale": null}}},
        {"transform": [{"filter": {"field": "material", "equal": "Na₀₋₂FeTiF₇"}}, {"filter": {"field": "axis", "equal": "grav"}}], "mark": {"type": "text", "fontSize": 14, "fontWeight": "bold", "color": "#166b5f"}, "encoding": {"x": {"datum": 0, "type": "quantitative"}, "y": {"datum": 0, "type": "quantitative"}, "text": {"field": "material", "type": "nominal"}}}
      ]
    },
    {
      "width": 198, "height": 194,
      "layer": [
        {"data": {"name": "rings"}, "mark": {"type": "point", "shape": "circle", "filled": false, "opacity": 1, "strokeWidth": 1}, "encoding": {"x": {"datum": 0, "type": "quantitative", "scale": {"domain": [-1.2222, 1.2222], "nice": false}}, "y": {"datum": 0, "type": "quantitative", "scale": {"domain": [-1.1975, 1.1975], "nice": false}}, "size": {"field": "r", "type": "quantitative", "scale": {"type": "pow", "exponent": 2, "domain": [0, 1], "range": [0, 26244]}}, "stroke": {"condition": {"test": "datum.r === 1", "value": "#555555"}, "value": "#d0d0d0"}}},
        {"data": {"name": "axes"}, "transform": [{"calculate": "0", "as": "ox"}, {"calculate": "0", "as": "oy"}, {"calculate": "cos(datum.angle * PI / 180)", "as": "ex"}, {"calculate": "sin(datum.angle * PI / 180)", "as": "ey"}], "mark": {"type": "rule", "color": "#d0d0d0", "strokeWidth": 1}, "encoding": {"x": {"field": "ox", "type": "quantitative"}, "y": {"field": "oy", "type": "quantitative"}, "x2": {"field": "ex"}, "y2": {"field": "ey"}}},
        {"transform": [{"filter": {"field": "material", "equal": "Na₁₋₃FeFeF₇"}}], "mark": {"type": "line", "interpolate": "linear-closed", "color": "#d7191c", "strokeWidth": 1.5, "fill": "#d7191c", "fillOpacity": 0.3}, "encoding": {"x": {"field": "px", "type": "quantitative"}, "y": {"field": "py", "type": "quantitative"}, "order": {"field": "angle", "type": "quantitative"}}},
        {"data": {"name": "axes"}, "transform": [{"calculate": "1.14 * cos(datum.angle * PI / 180)", "as": "tx"}, {"calculate": "1.14 * sin(datum.angle * PI / 180)", "as": "ty"}, {"calculate": "90 - datum.angle < -90 ? 270 - datum.angle : 90 - datum.angle", "as": "rot"}], "mark": {"type": "text", "fontSize": 8.5, "lineBreak": "\n", "lineHeight": 10, "color": "#333333", "baseline": "middle", "align": "center", "dy": -5}, "encoding": {"x": {"field": "tx", "type": "quantitative"}, "y": {"field": "ty", "type": "quantitative"}, "text": {"field": "title", "type": "nominal"}, "angle": {"field": "rot", "type": "quantitative", "scale": null}}},
        {"transform": [{"filter": {"field": "material", "equal": "Na₁₋₃FeFeF₇"}}, {"filter": {"field": "axis", "equal": "grav"}}], "mark": {"type": "text", "fontSize": 14, "fontWeight": "bold", "color": "#d7191c"}, "encoding": {"x": {"datum": 0, "type": "quantitative"}, "y": {"datum": 0, "type": "quantitative"}, "text": {"field": "material", "type": "nominal"}}}
      ]
    },
    {
      "width": 198, "height": 194,
      "layer": [
        {"data": {"name": "rings"}, "mark": {"type": "point", "shape": "circle", "filled": false, "opacity": 1, "strokeWidth": 1}, "encoding": {"x": {"datum": 0, "type": "quantitative", "scale": {"domain": [-1.2222, 1.2222], "nice": false}}, "y": {"datum": 0, "type": "quantitative", "scale": {"domain": [-1.1975, 1.1975], "nice": false}}, "size": {"field": "r", "type": "quantitative", "scale": {"type": "pow", "exponent": 2, "domain": [0, 1], "range": [0, 26244]}}, "stroke": {"condition": {"test": "datum.r === 1", "value": "#555555"}, "value": "#d0d0d0"}}},
        {"data": {"values": [{}]}, "mark": {"type": "rect", "filled": false, "stroke": "#a0a0a0", "strokeWidth": 2.5, "strokeDash": [10, 6], "cornerRadius": 22}, "encoding": {"x": {"datum": -1.2222, "type": "quantitative"}, "x2": {"datum": 3.9506}, "y": {"datum": -1.1975, "type": "quantitative"}, "y2": {"datum": 1.1975}}},
        {"data": {"name": "axes"}, "transform": [{"calculate": "0", "as": "ox"}, {"calculate": "0", "as": "oy"}, {"calculate": "cos(datum.angle * PI / 180)", "as": "ex"}, {"calculate": "sin(datum.angle * PI / 180)", "as": "ey"}], "mark": {"type": "rule", "color": "#d0d0d0", "strokeWidth": 1}, "encoding": {"x": {"field": "ox", "type": "quantitative"}, "y": {"field": "oy", "type": "quantitative"}, "x2": {"field": "ex"}, "y2": {"field": "ey"}}},
        {"transform": [{"filter": {"field": "material", "equal": "P2-Na₂/₃CoO₂"}}], "mark": {"type": "line", "interpolate": "linear-closed", "color": "#8b0000", "strokeWidth": 1.5, "fill": "#8b0000", "fillOpacity": 0.35}, "encoding": {"x": {"field": "px", "type": "quantitative"}, "y": {"field": "py", "type": "quantitative"}, "order": {"field": "angle", "type": "quantitative"}}},
        {"data": {"name": "axes"}, "transform": [{"calculate": "1.14 * cos(datum.angle * PI / 180)", "as": "tx"}, {"calculate": "1.14 * sin(datum.angle * PI / 180)", "as": "ty"}, {"calculate": "90 - datum.angle < -90 ? 270 - datum.angle : 90 - datum.angle", "as": "rot"}], "mark": {"type": "text", "fontSize": 8.5, "lineBreak": "\n", "lineHeight": 10, "color": "#333333", "baseline": "middle", "align": "center", "dy": -5}, "encoding": {"x": {"field": "tx", "type": "quantitative"}, "y": {"field": "ty", "type": "quantitative"}, "text": {"field": "title", "type": "nominal"}, "angle": {"field": "rot", "type": "quantitative", "scale": null}}},
        {"transform": [{"filter": {"field": "material", "equal": "P2-Na₂/₃CoO₂"}}, {"filter": {"field": "axis", "equal": "grav"}}], "mark": {"type": "text", "fontSize": 14, "fontWeight": "bold", "color": "#8b0000"}, "encoding": {"x": {"datum": 0, "type": "quantitative"}, "y": {"datum": 0, "type": "quantitative"}, "text": {"field": "material", "type": "nominal"}}}
      ]
    },
    {
      "width": 198, "height": 194,
      "layer": [
        {"data": {"name": "rings"}, "mark": {"type": "point", "shape": "circle", "filled": false, "opacity": 1, "strokeWidth": 1}, "encoding": {"x": {"datum": 0, "type": "quantitative", "scale": {"domain": [-1.2222, 1.2222], "nice": false}}, "y": {"datum": 0, "type": "quantitative", "scale": {"domain": [-1.1975, 1.1975], "nice": false}}, "size": {"field": "r", "type": "quantitative", "scale": {"type": "pow", "exponent": 2, "domain": [0, 1], "range": [0, 26244]}}, "stroke": {"condition": {"test": "datum.r === 1", "value": "#555555"}, "value": "#d0d0d0"}}},
        {"data": {"name": "axes"}, "transform": [{"calculate": "0", "as": "ox"}, {"calculate": "0", "as": "oy"}, {"calculate": "cos(datum.angle * PI / 180)", "as": "ex"}, {"calculate": "sin(datum.angle * PI / 180)", "as": "ey"}], "mark": {"type": "rule", "color": "#d0d0d0", "strokeWidth": 1}, "encoding": {"x": {"field": "ox", "type": "quantitative"}, "y": {"field": "oy", "type": "quantitative"}, "x2": {"field": "ex"}, "y2": {"field": "ey"}}},
        {"transform": [{"filter": {"field": "material", "equal": "Na₂Fe₂(SO₄)₃"}}], "mark": {"type": "line", "interpolate": "linear-closed", "color": "#4169e1", "strokeWidth": 1.5, "fill": "#4169e1", "fillOpacity": 0.3}, "encoding": {"x": {"field": "px", "type": "quantitative"}, "y": {"field": "py", "type": "quantitative"}, "order": {"field": "angle", "type": "quantitative"}}},
        {"data": {"name": "axes"}, "transform": [{"calculate": "1.14 * cos(datum.angle * PI / 180)", "as": "tx"}, {"calculate": "1.14 * sin(datum.angle * PI / 180)", "as": "ty"}, {"calculate": "90 - datum.angle < -90 ? 270 - datum.angle : 90 - datum.angle", "as": "rot"}], "mark": {"type": "text", "fontSize": 8.5, "lineBreak": "\n", "lineHeight": 10, "color": "#333333", "baseline": "middle", "align": "center", "dy": -5}, "encoding": {"x": {"field": "tx", "type": "quantitative"}, "y": {"field": "ty", "type": "quantitative"}, "text": {"field": "title", "type": "nominal"}, "angle": {"field": "rot", "type": "quantitative", "scale": null}}},
        {"transform": [{"filter": {"field": "material", "equal": "Na₂Fe₂(SO₄)₃"}}, {"filter": {"field": "axis", "equal": "grav"}}], "mark": {"type": "text", "fontSize": 14, "fontWeight": "bold", "color": "#4169e1"}, "encoding": {"x": {"datum": 0, "type": "quantitative"}, "y": {"datum": 0, "type": "quantitative"}, "text": {"field": "material", "type": "nominal"}}}
      ]
    }
  ]
}
